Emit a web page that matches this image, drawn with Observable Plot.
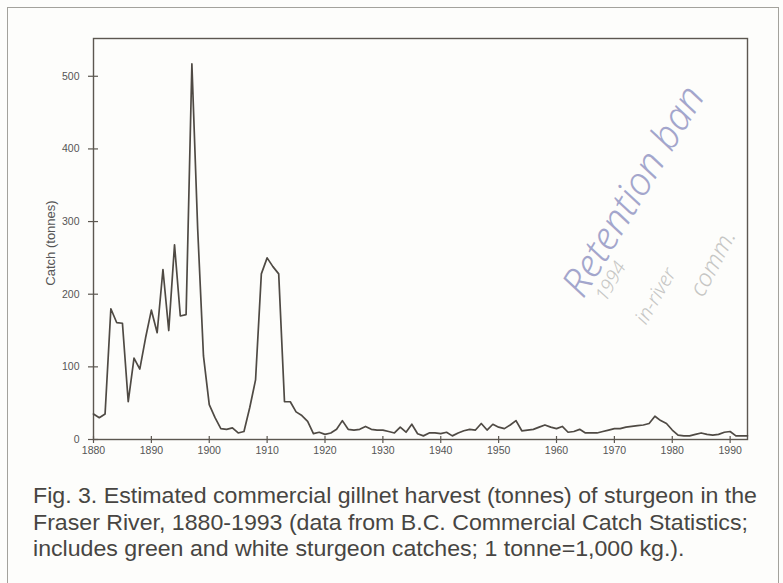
<!DOCTYPE html>
<html>
<head>
<meta charset="utf-8">
<script src="https://cdn.jsdelivr.net/npm/d3@7"></script>
<script src="https://cdn.jsdelivr.net/npm/@observablehq/plot@0.6"></script>
<style>
  html, body { margin: 0; padding: 0; background: #fdfdfb; width: 783px; height: 583px; overflow: hidden; }
  #frame { position: absolute; left: 7px; top: 7px; width: 772px; height: 640px; border: 1px solid #a3a29c; box-sizing: border-box; }
  #chart { position: absolute; left: 0; top: 0; }
  #caption { position: absolute; left: 33px; top: 483px; font-family: "Liberation Sans", Arial, sans-serif; font-size: 22.5px; line-height: 26.5px; color: #474542; }
  #caption div { white-space: nowrap; transform-origin: left center; width: max-content; }
  .hand { position: absolute; font-family: "Noto Sans", sans-serif; font-weight: 300; font-style: italic; white-space: nowrap; transform-origin: left center; line-height: 1; }
</style>
</head>
<body>
<div id="frame"></div>
<div id="chart"></div>
<div id="caption"></div>
<div class="hand" style="left:570px; top:272px; font-size:39px; color:#5b60a6; opacity:0.55; transform: rotate(-59deg);">Retention ban</div>
<div class="hand" style="left:600px; top:290px; font-size:19px; color:#a2a2a0; opacity:0.6; transform: rotate(-60deg);">1994</div>
<div class="hand" style="left:640px; top:312px; font-size:20px; color:#a2a2a0; opacity:0.6; transform: rotate(-60deg);">in-river</div>
<div class="hand" style="left:695px; top:282px; font-size:24px; color:#a2a2a0; opacity:0.6; transform: rotate(-62deg);">comm.</div>
<script>
const startYear = 1880;
const catchTonnes = [
  35, 30, 35, 180, 161, 160, 52, 112, 97, 140,      // 1880-1889
  178, 147, 234, 150, 268, 170, 172, 517, 290, 115,  // 1890-1899
  48, 30, 15, 14, 16, 9, 11, 44, 82, 228,            // 1900-1909
  250, 238, 228, 52, 52, 38, 33, 25, 8, 10,          // 1910-1919
  7, 9, 14, 26, 14, 13, 14, 18, 14, 13,              // 1920-1929
  13, 11, 9, 17, 10, 21, 8, 5, 9, 9,                 // 1930-1939
  8, 10, 5, 9, 12, 14, 13, 22, 13, 21,               // 1940-1949
  17, 15, 20, 26, 12, 13, 14, 17, 20, 17,            // 1950-1959
  15, 18, 10, 11, 14, 9, 9, 9, 11, 13,               // 1960-1969
  15, 15, 17, 18, 19, 20, 22, 32, 26, 22,            // 1970-1979
  13, 6, 5, 5, 7, 9, 7, 6, 7, 10,                    // 1980-1989
  11, 5, 5, 5                                        // 1990-1993
];
const xTicks = [1880, 1890, 1900, 1910, 1920, 1930, 1940, 1950, 1960, 1970, 1980, 1990];
const yTicks = [0, 100, 200, 300, 400, 500];
const yLabel = "Catch (tonnes)";
const captionLines = [
  "Fig. 3. Estimated commercial gillnet harvest (tonnes) of sturgeon in the",
  "Fraser River, 1880-1993 (data from B.C. Commercial Catch Statistics;",
  "includes green and white sturgeon catches; 1 tonne=1,000 kg.)."
];

const data = catchTonnes.map((v, i) => ({year: startYear + i, catch: v}));
const ink = "#5c5750";

const chart = Plot.plot({
  width: 783,
  height: 470,
  marginLeft: 93,
  marginRight: 36,
  marginTop: 38,
  marginBottom: 31,
  x: {domain: [1880, 1993]},
  y: {domain: [0, 552]},
  style: {background: "transparent", fontFamily: "Liberation Sans, Arial, sans-serif", fontSize: "10.5px", color: "#555"},
  marks: [
    Plot.frame({stroke: ink, strokeWidth: 1.4}),
    Plot.axisX({ticks: xTicks, tickSize: 7, dy: -3, fill: "none", label: null, stroke: ink, strokeWidth: 1.2}),
    Plot.axisX({ticks: xTicks, tickSize: 0, tickPadding: 7, tickFormat: d => String(d), label: null, fill: "#555"}),
    Plot.axisY({ticks: yTicks, tickSize: 10, dx: 5, fill: "none", label: null, stroke: ink, strokeWidth: 1.2}),
    Plot.axisY({ticks: yTicks, tickSize: 0, tickPadding: 14, label: null, fill: "#555"}),
    Plot.text([yLabel], {frameAnchor: "left", textAnchor: "middle", rotate: -90, dx: -43, dy: 4, fontSize: 13, fill: "#555", text: d => d}),
    Plot.line(data, {x: "year", y: "catch", stroke: "#4f4a44", strokeWidth: 1.7})
  ]
});
document.getElementById("chart").appendChild(chart);

const cap = document.getElementById("caption");
captionLines.forEach(t => { const d = document.createElement("div"); d.textContent = t; cap.appendChild(d); });
const first = cap.firstChild.getBoundingClientRect().width;
const sx = 724 / first;
cap.querySelectorAll("div").forEach(d => { d.style.transform = `scaleX(${sx})`; });
</script>
</body>
</html>
